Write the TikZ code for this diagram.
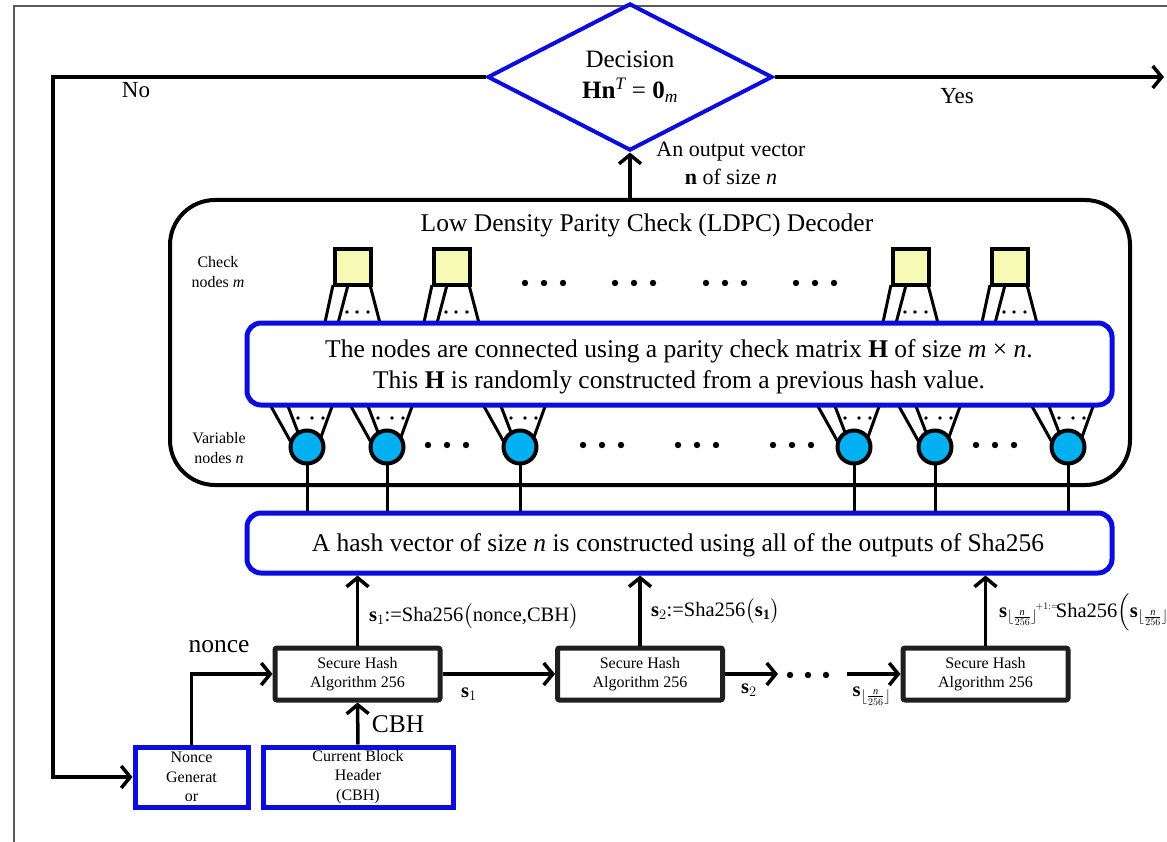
\documentclass[tikz,border=0pt]{standalone}
\usepackage{amsmath}
\usepackage{fontspec}
\setmainfont{Liberation Serif}
\usetikzlibrary{shapes.geometric,arrows.meta,calc}
\definecolor{myblue}{RGB}{12,12,220}
\definecolor{mycyan}{RGB}{0,176,240}
\definecolor{myyellow}{RGB}{247,250,180}
\definecolor{framegray}{RGB}{90,90,90}
\newcommand{\fsz}[2]{\fontsize{#1}{#2}\selectfont}
\begin{document}
\begin{tikzpicture}[x=1pt,y=-1pt,
  arr/.style={line width=3.5pt,-{Straight Barb[length=9pt,width=22pt]}},
  thickline/.style={line width=3.5pt},
  fan/.style={line width=3pt},
  bigtext/.style={font=\fsz{25.5}{31}, align=center, inner sep=0pt},
  midtext/.style={font=\fsz{20.5}{24}, align=center, inner sep=0pt},
  smalltext/.style={font=\fsz{16}{19.5}, align=center, inner sep=0pt},
  checknode/.style={draw, fill=myyellow, line width=4pt, minimum size=36pt, inner sep=0pt},
  varnode/.style={circle, draw, fill=mycyan, line width=4pt, minimum size=33pt, inner sep=0pt},
  bluebox/.style={draw=myblue, fill=white, line width=5pt, rounded corners=14pt, inner sep=0pt},
  inbox/.style={draw=myblue, fill=white, line width=5pt, inner sep=0pt, align=center, font=\fsz{16}{19.5}},
  shabox/.style={draw=black!88, fill=white, line width=5pt, rounded corners=2pt, minimum width=165pt, minimum height=52pt, inner sep=0pt, align=center, font=\fsz{16}{19.5}}
]
\fill[white] (0,0) rectangle (1167,842);
\useasboundingbox (0,0) rectangle (1167,842);
\draw[line width=1.2pt, framegray] (14,842) -- (14,6) -- (1167,6);

% LDPC decoder box
\node[draw, line width=4pt, rounded corners=45pt, minimum width=960pt, minimum height=285pt] (ldpc) at (650,342.5) {};
\node[bigtext] (ldpctitle) at (647,225) {Low Density Parity Check (LDPC) Decoder};
\node[smalltext] (checklbl) at (218,272) {Check\\nodes \textit{m}};
\node[smalltext] (varlbl) at (219,448) {Variable\\nodes \textit{n}};

% positions of check and variable nodes
\coordinate (pc1) at (353,267);
\coordinate (pc2) at (452,267);
\coordinate (pc3) at (911,267);
\coordinate (pc4) at (1010,267);
\coordinate (pv1) at (307,447);
\coordinate (pv2) at (387,447);
\coordinate (pv3) at (520,447);
\coordinate (pv4) at (854,447);
\coordinate (pv5) at (935,447);
\coordinate (pv6) at (1068,447);

% fans below check nodes
\foreach \c in {pc1,pc2,pc3,pc4}{
  \draw[fan] ($(\c)+(-20,18)$) -- ($(\c)+(-29,60)$);
  \draw[fan] ($(\c)+(-5,18)$) -- ($(\c)+(-16,60)$);
  \draw[fan] ($(\c)+(17,18)$) -- ($(\c)+(28,60)$);
  \foreach \d in {-6,4,15} \fill ($(\c)+(\d,45)$) circle (1.9pt);
}
% fans above variable nodes
\foreach \v in {pv1,pv2,pv3,pv4,pv5,pv6}{
  \draw[fan] ($(\v)+(-39,-46)$) -- ($(\v)+(-15,-3)$);
  \draw[fan] ($(\v)+(-21,-46)$) -- ($(\v)+(-8,-12)$);
  \draw[fan] ($(\v)+(27,-46)$) -- ($(\v)+(14,-10)$);
  \foreach \d in {-9,5,16} \fill ($(\v)+(\d,-29)$) circle (1.9pt);
}

% hash vector box
\node[bluebox, minimum width=865pt, minimum height=60pt] (hash) at (679.5,543) {};
\node[bigtext] (hashtext) at (678,545) {A hash vector of size \textit{n} is constructed using all of the outputs of Sha256};

% connections from variable nodes to hash box
\foreach \v in {pv1,pv2,pv3,pv4,pv5,pv6}{
  \draw[fan] (\v) -- (\v |- hash.north);
}

% check and variable nodes
\node[checknode] (c1) at (pc1) {};
\node[checknode] (c2) at (pc2) {};
\node[checknode] (c3) at (pc3) {};
\node[checknode] (c4) at (pc4) {};
\node[varnode] (v1) at (pv1) {};
\node[varnode] (v2) at (pv2) {};
\node[varnode] (v3) at (pv3) {};
\node[varnode] (v4) at (pv4) {};
\node[varnode] (v5) at (pv5) {};
\node[varnode] (v6) at (pv6) {};

% dots between nodes
\foreach \x in {544,634,725,815}{
  \foreach \d in {-19,0,19} \fill (\x+\d,283) circle (3.2pt);
}
\foreach \x in {447,602,697,792,995}{
  \foreach \d in {-19,0,19} \fill (\x+\d,445) circle (3.2pt);
}

% parity check matrix box
\node[bluebox, minimum width=865pt, minimum height=82pt] (hmat) at (679.5,364) {};
\node[bigtext, font=\fsz{25.5}{31}] (hmattext) at (679,367) {The nodes are connected using a parity check matrix \textbf{H} of size \textit{m} × \textit{n}.\\This \textbf{H} is randomly constructed from a previous hash value.};

% decision
\node[diamond, draw=myblue, line width=4pt, minimum width=285pt, minimum height=106pt, inner sep=0pt, align=center, font=\fsz{25}{33}] (dec) at (630,77) {Decision\\[-2pt]\textbf{Hn}$^{\mathit{T}}$ = \textbf{0}$_{\mathit{m}}$};
\draw[arr] (dec.south |- ldpc.north) -- (dec.south);
\node[bigtext, font=\fsz{22}{28}] (outlbl) at (731,163) {An output vector\\\textbf{n} of size \textit{n}};
\coordinate (yesend) at (1164,77);
\draw[arr] (dec.east) -- (yesend);
\node[bigtext, font=\fsz{23}{28}] (yes) at (957,96) {Yes};
\node[bigtext, font=\fsz{23}{28}] (no) at (136,90) {No};

% SHA boxes
\node[shabox] (sha1) at (357.5,674) {Secure Hash\\Algorithm 256};
\node[shabox] (sha2) at (640,674) {Secure Hash\\Algorithm 256};
\node[shabox] (sha3) at (985.5,674) {Secure Hash\\Algorithm 256};

\draw[arr] (sha1.north) -- (sha1.north |- hash.south);
\draw[arr] (sha2.north) -- (sha2.north |- hash.south);
\draw[arr] (sha3.north) -- (sha3.north |- hash.south);

\node[midtext, anchor=west] (s1lbl) at (369,616) {\textbf{s}$_{1}$:=Sha256$\big($nonce,CBH$\big)$};
\node[midtext, anchor=west] (s2lbl) at (651,611) {\textbf{s}$_{2}$:=Sha256$\big($\textbf{s}$_{\textbf{1}}\big)$};
\node[midtext, anchor=west] (s3lbl) at (999,612) {\textbf{s}$_{\lfloor\frac{\mathit{n}}{256}\rfloor}{}^{\!\scriptscriptstyle +1:=}\!$Sha256$\Big($\textbf{s}$_{\lfloor\frac{\mathit{n}}{256}\rfloor}\Big)$};

\draw[arr] (sha1.east) -- (sha2.west);
\node[midtext] (s1arr) at (469,694) {\textbf{s}$_{1}$};
\coordinate (d1) at (778,674);
\draw[arr] (sha2.east) -- (d1);
\node[midtext] (s2arr) at (749,690) {\textbf{s}$_{2}$};
\node[inner sep=0pt, minimum width=44pt, minimum height=8pt] (hdots) at (808,675) {};
\foreach \d in {-18,0,18} \fill ($(hdots.center)+(\d,0)$) circle (3.2pt);
\coordinate (d2) at (847,674);
\draw[arr] (d2) -- (sha3.west);
\node[midtext] (snarr) at (872,696) {\textbf{s}$_{\lfloor\frac{\mathit{n}}{256}\rfloor}$};

% inputs
\node[inbox, minimum width=113pt, minimum height=60pt] (ng) at (191.5,777) {Nonce\\Generat\\or};
\node[inbox, minimum width=190pt, minimum height=60pt] (cbh) at (358,777) {Current Block\\Header\\(CBH)};
\draw[arr] (ng.north) |- (sha1.west);
\node[bigtext] (noncelbl) at (219,647) {nonce};
\draw[arr] (cbh.north) -- (sha1.south);
\node[bigtext] (cbhlbl) at (398,724) {CBH};

% feedback (No)
\coordinate (fb1) at (53,77);
\coordinate (fb2) at (53,777);
\draw[arr] (dec.west) -- (fb1) -- (fb2) -- (ng.west);
\end{tikzpicture}
\end{document}
